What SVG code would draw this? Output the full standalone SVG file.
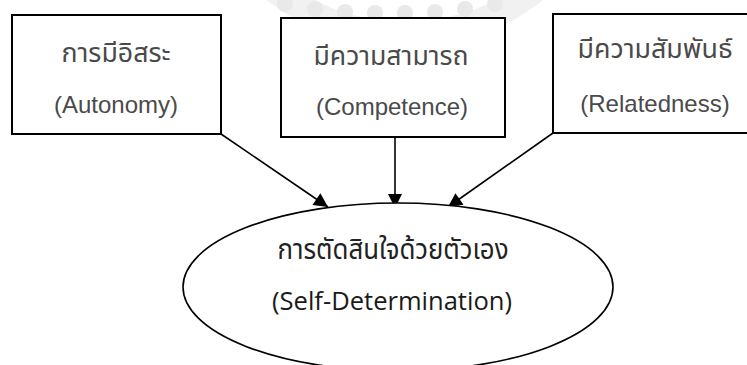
<svg xmlns="http://www.w3.org/2000/svg" width="747" height="365" viewBox="0 0 747 365">
  <defs>
    <style>
      .box { fill: #ffffff; stroke: #000000; stroke-width: 2; }
      .oval { fill: #ffffff; stroke: #000000; stroke-width: 1.6; }
      .edge { stroke: #000000; stroke-width: 1.6; fill: none; marker-end: url(#head); }
      .lbl { font-family: "Liberation Sans", Arial, "Noto Sans Thai", Tahoma, sans-serif; font-size: 24px; fill: #4a4a4a; text-anchor: middle; }
      .th { font-family: "Noto Sans Thai", Tahoma, "Liberation Sans", sans-serif; font-size: 26px; fill: #4a4a4a; text-anchor: middle; }
      .main-th { font-family: "Noto Sans Thai", "Liberation Sans", sans-serif; font-size: 28px; fill: #222222; text-anchor: middle; }
      .main-en { font-family: "Open Sans", "Noto Sans", sans-serif; font-size: 25px; fill: #1a1a1a; text-anchor: middle; }
      .mark { fill: none; stroke: #f1f1f1; }
    </style>
    <marker id="head" viewBox="0 0 10 10" refX="10" refY="5" markerUnits="userSpaceOnUse" markerWidth="16" markerHeight="14" orient="auto">
      <path d="M0,0 L10,5 L0,10 Z" fill="#000000"/>
    </marker>
  </defs>

  <rect width="747" height="365" fill="#ffffff"/>

  <!-- faint background seal -->
  <g id="seal">
    <circle class="mark" cx="405" cy="-175" r="210" stroke-width="26"/>
    <g fill="#e9e9e9">
      <circle cx="285" cy="4" r="8"/>
      <circle cx="315" cy="9" r="8"/>
      <circle cx="345" cy="12" r="8"/>
      <circle cx="375" cy="13" r="8"/>
      <circle cx="405" cy="13" r="8"/>
      <circle cx="435" cy="12" r="8"/>
      <circle cx="465" cy="9" r="8"/>
      <circle cx="495" cy="4" r="8"/>
    </g>
  </g>

  <!-- connectors -->
  <g id="connectors">
    <line class="edge" x1="221" y1="134" x2="328" y2="207"/>
    <line class="edge" x1="395" y1="137" x2="395" y2="208"/>
    <line class="edge" x1="553" y1="133" x2="448" y2="207"/>
  </g>

  <g id="autonomy">
    <rect class="box" x="12" y="15" width="209" height="119"/>
    <text class="th" x="116" y="62" textLength="109" lengthAdjust="spacingAndGlyphs">การมีอิสระ</text>
    <text class="lbl" x="116" y="113">(Autonomy)</text>
  </g>

  <g id="competence">
    <rect class="box" x="281" y="18" width="224" height="119"/>
    <text class="th" x="391" y="65" textLength="155" lengthAdjust="spacingAndGlyphs">มีความสามารถ</text>
    <text class="lbl" x="392" y="115">(Competence)</text>
  </g>

  <g id="relatedness">
    <rect class="box" x="553" y="14" width="204" height="119"/>
    <text class="th" x="655" y="58" textLength="155" lengthAdjust="spacingAndGlyphs">มีความสัมพันธ์</text>
    <text class="lbl" x="655" y="112">(Relatedness)</text>
  </g>

  <g id="self-determination">
    <ellipse class="oval" cx="398" cy="287" rx="215" ry="84"/>
    <text class="main-th" x="393" y="259" textLength="231" lengthAdjust="spacingAndGlyphs">การตัดสินใจด้วยตัวเอง</text>
    <text class="main-en" x="392" y="310" textLength="240" lengthAdjust="spacingAndGlyphs">(Self-Determination)</text>
  </g>
</svg>
